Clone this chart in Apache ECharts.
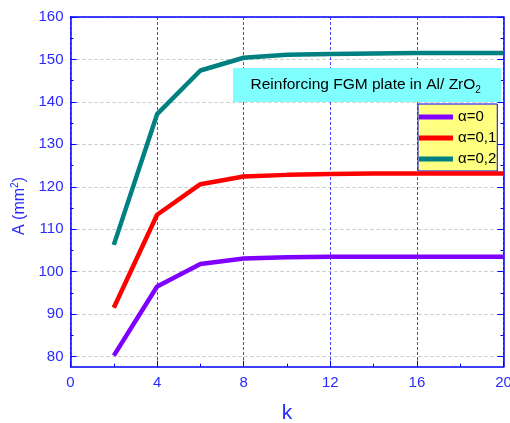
<!DOCTYPE html>
<html>
<head>
<meta charset="utf-8">
<script src="https://cdn.jsdelivr.net/npm/echarts@6/dist/echarts.min.js"></script>
<style>
  html, body { margin: 0; padding: 0; background: #fff; }
  #chart { width: 510px; height: 423px; }
</style>
</head>
<body>
<div id="chart"></div>
<script>
// Exponent k of the FGM distribution
const kValues = [2, 4, 6, 8, 10, 12, 14, 16, 18, 20];
// Area A (mm^2) for each alpha
const areaAlpha0 = [80.2, 96.5, 101.8, 103.1, 103.4, 103.5, 103.5, 103.5, 103.5, 103.5];
const areaAlpha01 = [91.5, 113.4, 120.6, 122.4, 122.8, 123.0, 123.1, 123.1, 123.1, 123.1];
const areaAlpha02 = [106.3, 137.1, 147.4, 150.4, 151.1, 151.3, 151.4, 151.5, 151.5, 151.5];
const seriesNames = ['\u03b1=0', '\u03b1=0,1', '\u03b1=0,2'];
// Axis ticks
const yMajorTicks = [80, 90, 100, 110, 120, 130, 140, 150, 160];
const yMinorTicks = [85, 95, 105, 115, 125, 135, 145, 155];
const yMin = 77.6, yMax = 160;
const xMin = 0, xMax = 20, xStep = 4;

const FONT = 'Arial, "Liberation Sans", sans-serif';
const BLUE = '#0000ff';
const LABEL_BLUE = '#2a2aff';

const chart = echarts.init(document.getElementById('chart'), null, { renderer: 'canvas' });

function pairs(ys) { return kValues.map((k, i) => [k, ys[i]]); }

const grid = { left: 70.5, right: 6.5, top: 17, bottom: 56.3, containLabel: false, outerBoundsMode: 'none' };

function yAxisCfg(position, ticks, len, showLine, showLabel, showSplit) {
  return {
    type: 'value', position: position, min: yMin, max: yMax,
    axisLine: { show: showLine, lineStyle: { color: BLUE, width: 1.5 } },
    axisTick: { show: true, inside: true, length: len, customValues: ticks, lineStyle: { color: BLUE, width: 1 } },
    axisLabel: { show: showLabel, customValues: ticks, color: LABEL_BLUE, fontSize: 15, fontFamily: FONT, margin: 7 },
    splitLine: { show: showSplit, lineStyle: { color: '#c4c4c4', type: [3, 3], width: 1 } },
    minorTick: { show: false }, minorSplitLine: { show: false }
  };
}

const lineColors = ['#8000ff', '#ff0000', '#008080'];
const datasets = [areaAlpha0, areaAlpha01, areaAlpha02];

chart.setOption({
  animation: false,
  backgroundColor: '#fff',
  grid: grid,
  xAxis: [
    {
      type: 'value', position: 'bottom', min: xMin, max: xMax, interval: xStep,
      name: 'k', nameLocation: 'middle', nameGap: 36,
      nameTextStyle: { color: LABEL_BLUE, fontSize: 21, fontFamily: FONT },
      axisLine: { show: true, lineStyle: { color: BLUE, width: 1.5 } },
      axisTick: { show: true, inside: true, length: 6, lineStyle: { color: BLUE } },
      minorTick: { show: true, splitNumber: 2, length: 3, lineStyle: { color: BLUE } },
      axisLabel: { color: LABEL_BLUE, fontSize: 15, fontFamily: FONT, margin: 9 },
      splitLine: { show: true, lineStyle: { color: '#4646ff', type: [3, 2], width: 1 } }
    },
    {
      type: 'value', position: 'top', min: xMin, max: xMax, interval: xStep,
      axisLine: { show: true, lineStyle: { color: BLUE, width: 1.5 } },
      axisTick: { show: false }, axisLabel: { show: false }, splitLine: { show: false }
    }
  ],
  yAxis: [
    yAxisCfg('left', yMajorTicks, 6, true, true, true),
    yAxisCfg('left', yMinorTicks, 3, false, false, false),
    yAxisCfg('right', yMajorTicks, 6, true, false, false),
    yAxisCfg('right', yMinorTicks, 3, false, false, false)
  ],
  legend: {
    orient: 'vertical', left: 418, top: 104,
    backgroundColor: '#ffff80', borderColor: BLUE, borderWidth: 1,
    padding: [4, 1, 3, 1], itemGap: 3, itemWidth: 34, itemHeight: 5,
    icon: 'rect',
    textStyle: { color: '#000', fontSize: 15, fontFamily: FONT, lineHeight: 18 },
    data: seriesNames
  },
  graphic: [
    {
      type: 'rect', left: 233, top: 68, z: 50,
      shape: { width: 268, height: 34 },
      style: { fill: '#80ffff' }
    },
    {
      type: 'text', x: 250.5, y: 85, z: 51,
      style: {
        text: '{a|Reinforcing FGM plate in Al/ ZrO}{s|2}',
        verticalAlign: 'middle',
        rich: {
          a: { fontSize: 15.5, fontFamily: FONT, fill: '#000', lineHeight: 20 },
          s: { fontSize: 10, fontFamily: FONT, fill: '#000', lineHeight: 20, padding: [10, 0, 0, 0] }
        }
      }
    },
    {
      type: 'text', x: 20, y: 206, rotation: Math.PI / 2, z: 51,
      style: {
        text: '{a|A (mm}{s|2}{a|)}',
        align: 'center', verticalAlign: 'middle',
        rich: {
          a: { fontSize: 16, fontFamily: FONT, fill: LABEL_BLUE, lineHeight: 20 },
          s: { fontSize: 10, fontFamily: FONT, fill: LABEL_BLUE, lineHeight: 20, padding: [0, 0, 9, 0] }
        }
      }
    }
  ],
  series: datasets.map((d, i) => ({
    name: seriesNames[i], type: 'line', xAxisIndex: 0, yAxisIndex: 0,
    data: pairs(d), symbol: 'none', smooth: false,
    lineStyle: { color: lineColors[i], width: 4.5 },
    itemStyle: { color: lineColors[i] },
    z: 10
  }))
});
</script>
</body>
</html>
